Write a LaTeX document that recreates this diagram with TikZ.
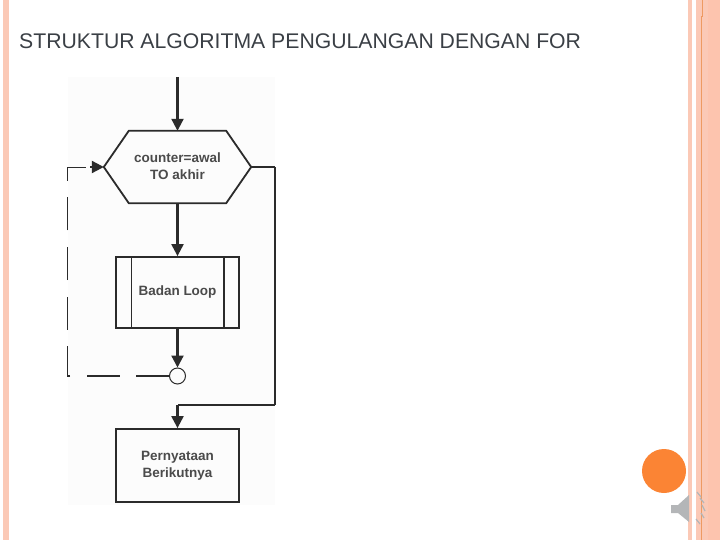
\documentclass[tikz,border=0pt]{standalone}
\usepackage{fontspec}
\usepackage{tikz}
\usetikzlibrary{arrows.meta}
\setmainfont{Liberation Sans}
\definecolor{stripe}{HTML}{FBC9B6}
\definecolor{stripedeep}{HTML}{FDC4AE}
\definecolor{stripeline}{HTML}{EE9A62}
\definecolor{blob}{HTML}{FB8434}
\definecolor{ink}{HTML}{2B2B2B}
\definecolor{titleink}{HTML}{3A3F45}
\definecolor{speaker}{HTML}{B4B6B8}
\definecolor{scan}{HTML}{FCFCFC}
\tikzset{
  flow/.style={draw=ink,line width=1.8pt},
  arrowline/.style={draw=ink,line width=2.2pt,-{Triangle[length=12pt,width=12pt]}},
  feedback/.style={draw=ink,dash pattern=on 33pt off 16.5pt},
  boxtext/.style={font=\fontsize{13.5}{17}\selectfont\bfseries,text=ink!85,align=center},
}
\begin{document}
\begin{tikzpicture}[x=1pt,y=-1pt]
\useasboundingbox (0,0) rectangle (720,540);
% slide border
\fill[stripe] (3,0) rectangle (9,540);
\fill[stripe] (688,0) rectangle (692,540);
\fill[stripe] (696,0) rectangle (708,540);
\fill[stripedeep] (708,0) rectangle (720,540);
\draw[stripeline,line width=1pt] (702.5,0) -- (702.5,17) -- (701.5,17) -- (701.5,540);
\node[inner sep=0pt,anchor=west,text=titleink,font=\fontsize{21.2}{25}\selectfont] (title) at (19,41) {STRUKTUR ALGORITMA PENGULANGAN DENGAN FOR};
% flowchart
\fill[scan] (68,77) rectangle (275,505);
\coordinate (start) at (177.5,77);
\node[minimum width=147pt,minimum height=72pt,inner sep=0pt,boxtext] (cond) at (177.5,167) {};
\node[boxtext] (condtext) at (177.5,166) {counter=awal\\TO akhir};
\draw[flow] (cond.west) -- ([xshift=25pt]cond.north west) -- ([xshift=-25pt]cond.north east) -- (cond.east) -- ([xshift=-25pt]cond.south east) -- ([xshift=25pt]cond.south west) -- cycle;
\node[flow,minimum width=123pt,minimum height=71pt,inner sep=0pt,boxtext] (body) at (177.5,292.5) {Badan Loop};
\draw[ink,line width=1pt] (131,257) -- (131,328);
\draw[ink,line width=2pt] (224,257) -- (224,328);
\node[circle,flow,line width=1pt,minimum size=16pt,inner sep=0pt] (join) at (177.5,376) {};
\node[flow,minimum width=123pt,minimum height=73pt,inner sep=0pt,boxtext] (next) at (177.5,465.5) {Pernyataan\\Berikutnya};
\coordinate (rightup) at (275,167);
\coordinate (rightdown) at (275,405);
\coordinate (rightend) at (177.5,405);
\coordinate (leftdown) at (67,376);
\coordinate (leftup) at (67,167);
\coordinate (tipstart) at (90,167);
\foreach \from/\to in {start/cond,cond/body,body/join,rightend/next,tipstart/cond.west}
  \draw[arrowline] (\from) -- (\to);
\draw[draw=ink,line width=1.2pt] (cond.east) -- (rightup);
\draw[draw=ink,line width=2.6pt] (rightup) -- (rightdown);
\draw[flow] (rightdown) -- (rightend);
\draw[feedback,line width=2pt] (join.west) -- (leftdown);
\draw[feedback,line width=.9pt,dash phase=3pt] (leftdown) -- (leftup) -- (tipstart);
% sound icon
\fill[blob] (664,471) circle (22);
\fill[speaker] (671,505) -- (678,505) -- (689,495) -- (689,522) -- (678,513) -- (671,513) -- cycle;
\foreach \a/\b/\c/\d in {697/492/701/497,700/498/704/503,702/505/705/511,701/513/704/518,696/519/700/524}
  \draw[speaker,line width=1.2pt] (\a,\b) -- (\c,\d);
\end{tikzpicture}
\end{document}
